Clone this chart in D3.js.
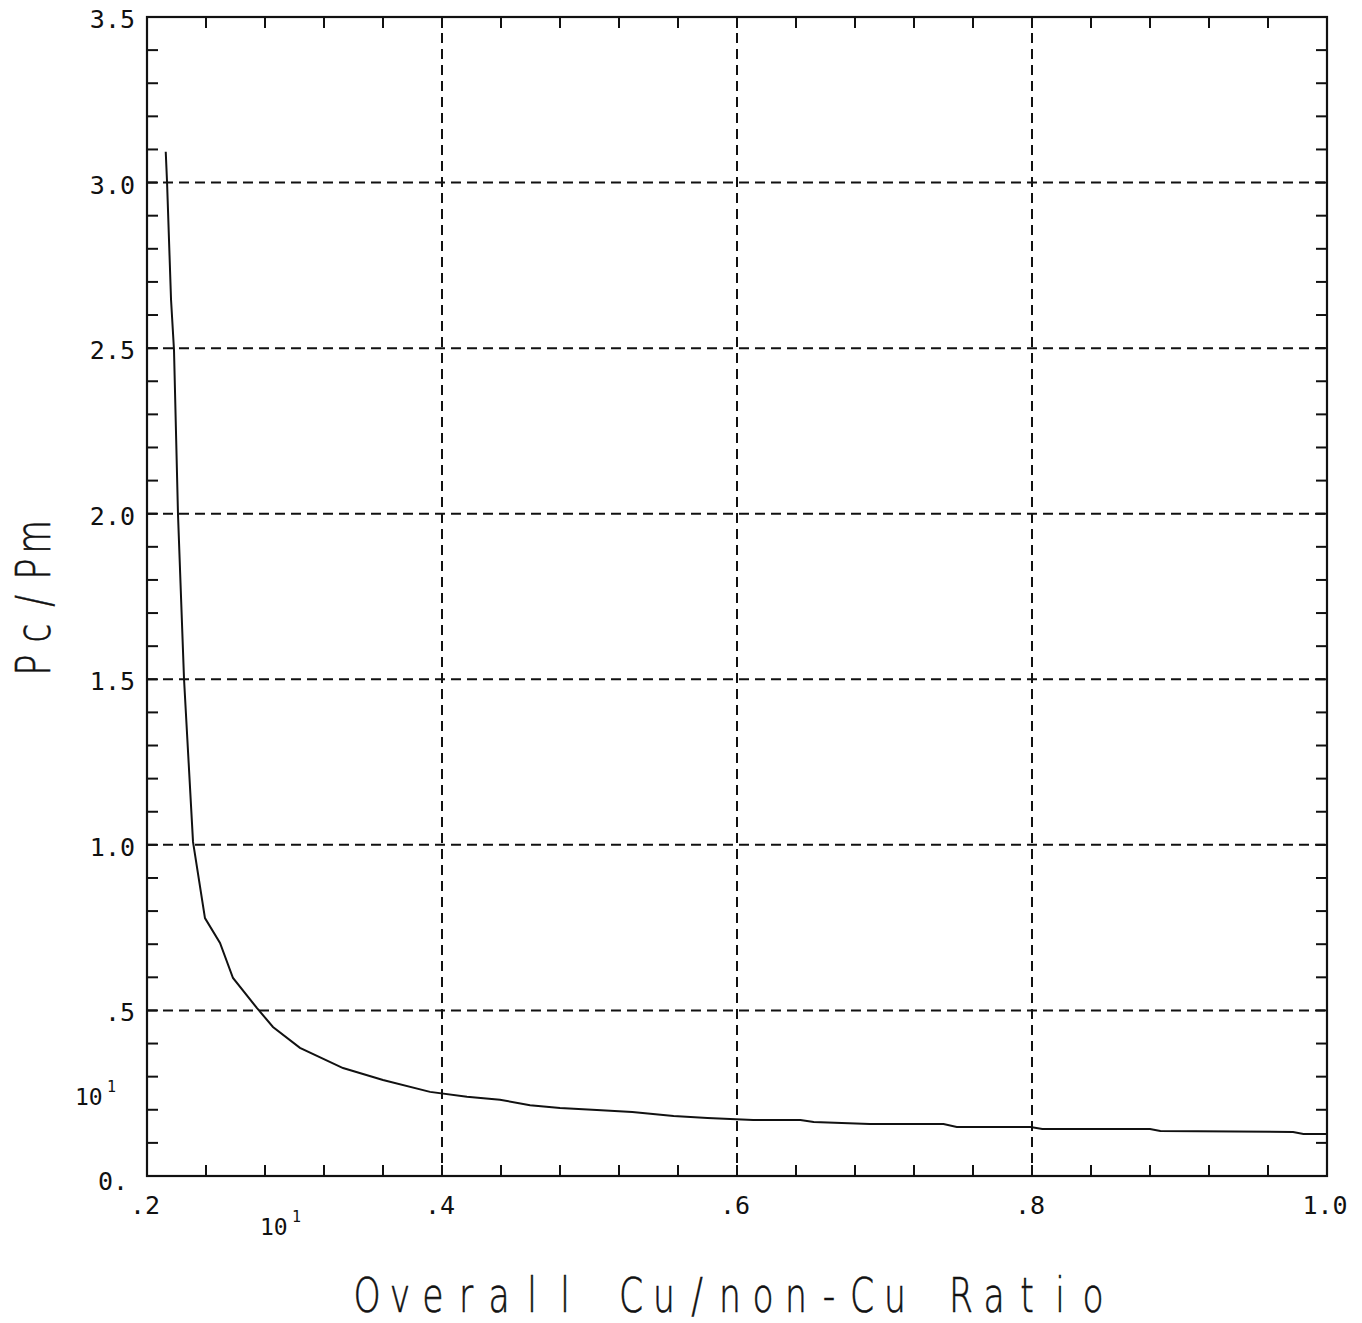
<!DOCTYPE html>
<html>
<head>
<meta charset="utf-8">
<script src="https://cdn.jsdelivr.net/npm/d3@7"></script>
<style>
  body { margin: 0; background: #fff; }
  svg { display: block; }
  .tick-lab { font-family: "DejaVu Sans Mono", monospace; font-size: 25px; fill: #111; }
  .plot-ch { font-family: "DejaVu Sans", sans-serif; font-weight: 200; font-size: 48px; fill: #111; stroke: #111; stroke-width: 0.6; }
</style>
</head>
<body>
<svg></svg>
<script>
// curve: ratio vs Pc/Pm
var ratio = [0.2127, 0.2136, 0.2163, 0.2183, 0.2210, 0.2251, 0.2312, 0.2393, 0.2495, 0.2583,
             0.2746, 0.2854, 0.3037, 0.3329, 0.3600, 0.3919, 0.4169, 0.4393, 0.4597, 0.480,
             0.505, 0.529, 0.557, 0.580, 0.611, 0.643, 0.652, 0.690, 0.740, 0.749,
             0.799, 0.807, 0.880, 0.887, 0.977, 0.984, 1.0];
var pcpm  = [3.093, 3.0, 2.646, 2.495, 2.0, 1.501, 1.009, 0.779, 0.704, 0.598,
             0.507, 0.450, 0.387, 0.326, 0.290, 0.254, 0.239, 0.230, 0.214, 0.205,
             0.199, 0.193, 0.181, 0.175, 0.169, 0.169, 0.163, 0.157, 0.157, 0.148,
             0.148, 0.142, 0.142, 0.136, 0.133, 0.127, 0.127];

var xTicks = [0.2, 0.4, 0.6, 0.8, 1.0];
var xTickLabels = [".2", ".4", ".6", ".8", "1.0"];
var yTicks = [0, 0.5, 1.0, 1.5, 2.0, 2.5, 3.0, 3.5];
var yTickLabels = ["0.", ".5", "1.0", "1.5", "2.0", "2.5", "3.0", "3.5"];
var xGrid = [0.4, 0.6, 0.8];
var yGrid = [0.5, 1.0, 1.5, 2.0, 2.5, 3.0];
var xTitle = "Overall Cu/non-Cu Ratio";
var yTitle = "Pc/Pm";

function init() {
    var W = 1362, H = 1323;
    var left = 147, right = 1327, top = 17, bottom = 1176;

    var svg = d3.select("svg").attr("width", W).attr("height", H);

    var x = d3.scaleLinear().domain([0.2, 1.0]).range([left, right]);
    var y = d3.scaleLinear().domain([0, 3.5]).range([bottom, top]);

    var xMinor = d3.range(0.2, 1.0001, 0.04);
    var yMinor = d3.range(0, 3.5001, 0.1);

    // dashed grid
    svg.append("g").selectAll("line").data(yGrid).enter().append("line")
        .attr("x1", left).attr("x2", right)
        .attr("y1", function(d) { return y(d); }).attr("y2", function(d) { return y(d); })
        .attr("stroke", "#111").attr("stroke-width", 2).attr("stroke-dasharray", "10,6");
    svg.append("g").selectAll("line").data(xGrid).enter().append("line")
        .attr("y1", top).attr("y2", bottom)
        .attr("x1", function(d) { return x(d); }).attr("x2", function(d) { return x(d); })
        .attr("stroke", "#111").attr("stroke-width", 2).attr("stroke-dasharray", "10,6");

    // inward minor ticks on all four sides
    var tk = 11;
    function ticks(data, f) {
        svg.append("g").selectAll("line").data(data).enter().append("line")
            .each(function(d) { var p = f(d); d3.select(this).attr("x1", p[0]).attr("y1", p[1]).attr("x2", p[2]).attr("y2", p[3]); })
            .attr("stroke", "#111").attr("stroke-width", 2);
    }
    ticks(xMinor, function(d) { return [x(d), bottom, x(d), bottom - tk]; });
    ticks(xMinor, function(d) { return [x(d), top, x(d), top + tk]; });
    ticks(yMinor, function(d) { return [left, y(d), left + tk, y(d)]; });
    ticks(yMinor, function(d) { return [right, y(d), right - tk, y(d)]; });

    // frame
    svg.append("rect")
        .attr("x", left).attr("y", top)
        .attr("width", right - left).attr("height", bottom - top)
        .attr("fill", "none").attr("stroke", "#111").attr("stroke-width", 2.2);

    // tick labels
    svg.append("g").selectAll("text").data(xTicks).enter().append("text")
        .attr("class", "tick-lab")
        .attr("x", function(d) { return x(d) - 2; })
        .attr("y", 1214)
        .attr("text-anchor", "middle")
        .text(function(d, i) { return xTickLabels[i]; });

    svg.append("g").selectAll("text").data(yTicks).enter().append("text")
        .attr("class", "tick-lab")
        .attr("x", function(d) { return d == 0 ? 128 : 135; })
        .attr("y", function(d) { return y(d) + (d == 0 ? 14 : 11); })
        .attr("text-anchor", "end")
        .text(function(d, i) { return yTickLabels[i]; });

    // stray exponent labels left by the plotter
    [[75, 1105], [260, 1235]].forEach(function(p) {
        svg.append("text").attr("class", "tick-lab").style("font-size", "23px")
            .attr("x", p[0]).attr("y", p[1]).text("10");
        svg.append("text").attr("class", "tick-lab").style("font-size", "15px")
            .attr("x", p[0] + 32).attr("y", p[1] - 13).text("1");
    });

    // curve
    var pts = ratio.map(function(d, i) { return [d, pcpm[i]]; });
    var line = d3.line()
        .x(function(d) { return x(d[0]); })
        .y(function(d) { return y(d[1]); });
    svg.append("path")
        .datum(pts)
        .attr("d", line)
        .attr("fill", "none")
        .attr("stroke", "#111")
        .attr("stroke-width", 2);

    // axis titles, set on a fixed plotter pitch
    var pitch = 33;
    svg.append("g").selectAll("text").data(xTitle.split("")).enter().append("text")
        .attr("class", "plot-ch")
        .attr("text-anchor", "middle")
        .attr("transform", function(d, i) { return "translate(" + (367 + i * pitch) + ",1312) scale(0.72,1)"; })
        .text(function(d) { return d; });

    svg.append("g").selectAll("text").data(yTitle.split("")).enter().append("text")
        .attr("class", "plot-ch")
        .attr("text-anchor", "middle")
        .attr("transform", function(d, i) { return "translate(50," + (665 - i * 32) + ") rotate(-90) scale(0.72,1)"; })
        .text(function(d) { return d; });
}
window.onload = init;
</script>
</body>
</html>
